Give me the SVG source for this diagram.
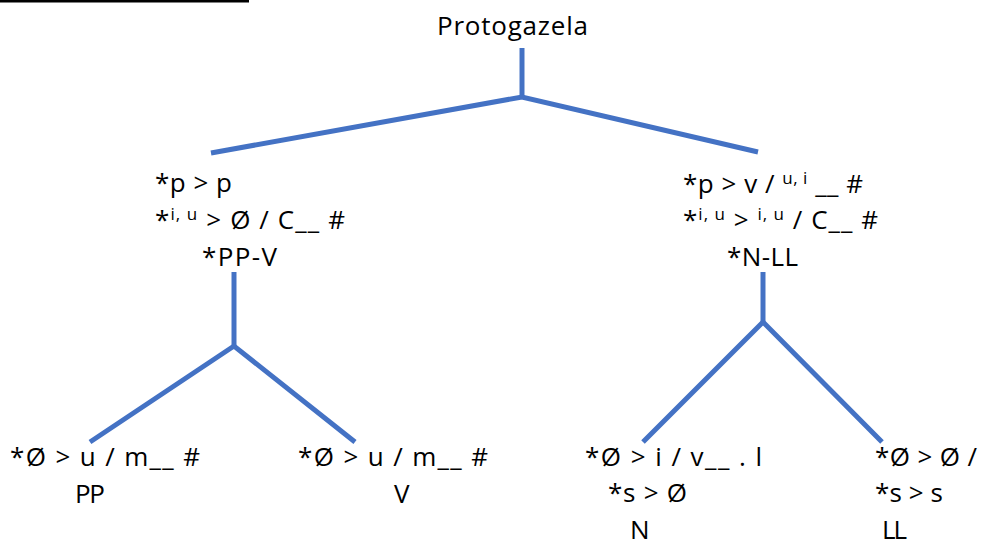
<svg xmlns="http://www.w3.org/2000/svg" width="985" height="546" viewBox="0 0 985 546">
<style>
text{font-family:"Open Sans","Liberation Sans",sans-serif;font-size:26px;fill:#000}
.sup{font-size:17px}
.c{stroke:#4472C4;stroke-width:5;fill:none;stroke-linecap:butt}
</style>
<rect x="0" y="0" width="985" height="546" fill="#fff"/>
<line x1="0" y1="1" x2="249" y2="1" stroke="#000" stroke-width="3"/>
<g id="connectors">
<line class="c" x1="522" y1="48" x2="522" y2="97"/>
<polyline class="c" points="211,153 522,97 758,152"/>
<line class="c" x1="234" y1="272" x2="234" y2="346"/>
<polyline class="c" points="90,442 234,346 355,442"/>
<line class="c" x1="763" y1="272" x2="763" y2="322"/>
<polyline class="c" points="643,442 763,322 882,442"/>
</g>
<g id="root"><text x="437" y="35" textLength="151" lengthAdjust="spacing">Protogazela</text></g>
<g id="ppv">
<text x="155" y="192" textLength="77" lengthAdjust="spacing">*p &gt; p</text>
<text x="155" y="229" textLength="190" lengthAdjust="spacing">*<tspan class="sup" dy="-9">i, u</tspan><tspan dy="9"> &gt; Ø / C__ #</tspan></text>
<text x="202" y="266" textLength="75" lengthAdjust="spacing">*PP-V</text>
</g>
<g id="nll">
<text x="683" y="193" textLength="180" lengthAdjust="spacing">*p &gt; v / <tspan class="sup" dy="-9">u, i</tspan><tspan dy="9"> __ #</tspan></text>
<text x="683" y="229" textLength="195" lengthAdjust="spacing">*<tspan class="sup" dy="-9">i, u</tspan><tspan dy="9"> &gt; </tspan><tspan class="sup" dy="-9">i, u</tspan><tspan dy="9"> / C__ #</tspan></text>
<text x="727" y="266" textLength="71" lengthAdjust="spacing">*N-LL</text>
</g>
<g id="pp">
<text x="10" y="466" textLength="190" lengthAdjust="spacing">*Ø &gt; u / m__ #</text>
<text x="75" y="503" textLength="30" lengthAdjust="spacing">PP</text>
</g>
<g id="v">
<text x="298" y="466" textLength="190" lengthAdjust="spacing">*Ø &gt; u / m__ #</text>
<text x="394" y="503">V</text>
</g>
<g id="n">
<text x="585" y="466" textLength="177" lengthAdjust="spacing">*Ø &gt; i / v__ . l</text>
<text x="608" y="502" textLength="79" lengthAdjust="spacing">*s &gt; Ø</text>
<text x="630" y="539">N</text>
</g>
<g id="ll">
<text x="875" y="466" textLength="102" lengthAdjust="spacing">*Ø &gt; Ø /</text>
<text x="875" y="502" textLength="68" lengthAdjust="spacing">*s &gt; s</text>
<text x="882" y="539" textLength="25" lengthAdjust="spacing">LL</text>
</g>
</svg>
